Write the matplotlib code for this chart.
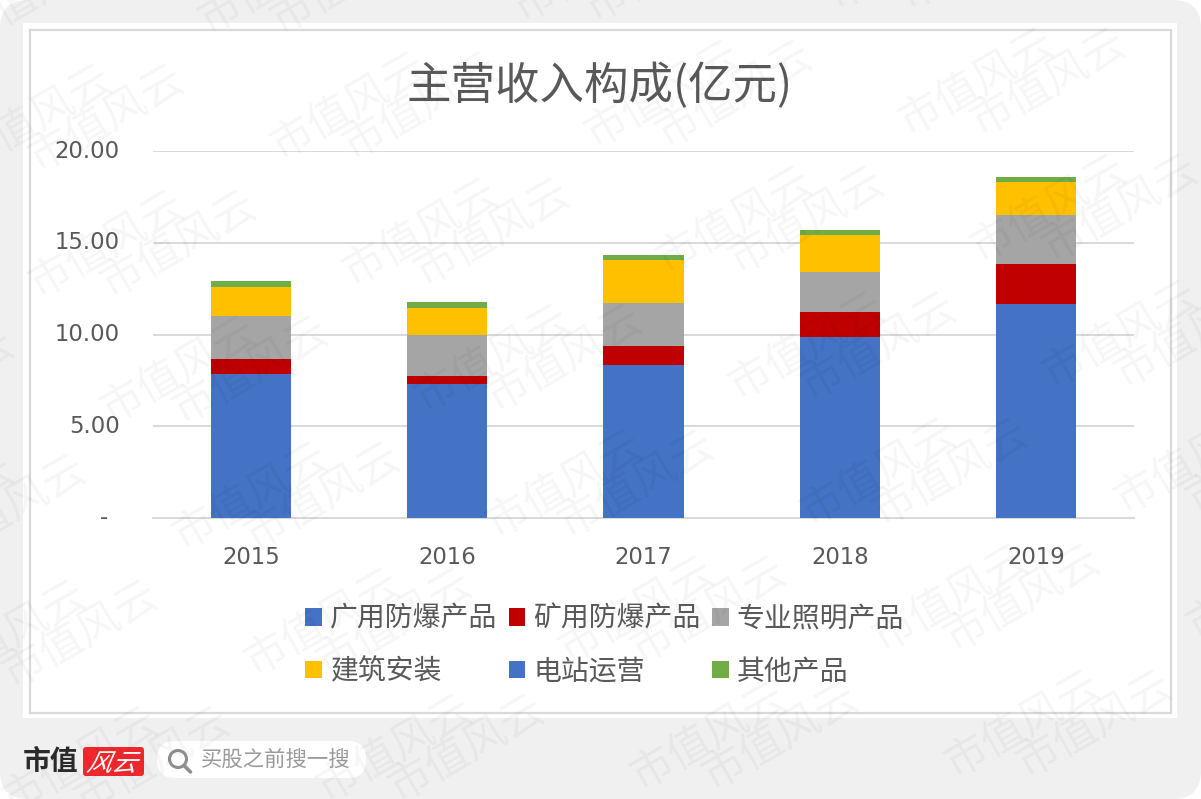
import matplotlib
matplotlib.use('Agg')
from matplotlib import pyplot as plt
from matplotlib.patches import FancyBboxPatch, Rectangle, Circle, PathPatch
from matplotlib.textpath import TextPath
from matplotlib.font_manager import FontProperties
from matplotlib.transforms import Affine2D
import numpy as np

plt.rcParams['font.family'] = ['Noto Sans CJK SC', 'DejaVu Sans']

W, H = 1201, 799

years = ['2015', '2016', '2017', '2018', '2019']
series_names = ['广用防爆产品', '矿用防爆产品', '专业照明产品', '建筑安装', '电站运营', '其他产品']
series_colors = ['#4472c4', '#c00000', '#a5a5a5', '#ffc000', '#4472c4', '#70ad47']

gy_industrial = [7.85, 7.30, 8.34, 9.88, 11.65]
ky_mining = [0.81, 0.44, 1.03, 1.35, 2.20]
zy_lighting = [2.35, 2.23, 2.35, 2.17, 2.65]
jz_building = [1.58, 1.47, 2.34, 2.00, 1.83]
dz_station = [0.0, 0.0, 0.0, 0.0, 0.0]
qt_other = [0.33, 0.33, 0.27, 0.30, 0.24]

y_ticks = [0, 5, 10, 15, 20]
y_labels = ['-\u2002', '5.00', '10.00', '15.00', '20.00']

TXT = '#595959'
GRID = '#d9d9d9'
NUM_FONT = ['DejaVu Sans', 'Noto Sans CJK SC']


def pixel_axes(fig, zorder):
    a = fig.add_axes([0, 0, 1, 1], zorder=zorder)
    a.set_xlim(0, W)
    a.set_ylim(H, 0)
    a.axis('off')
    a.patch.set_alpha(0)
    return a


def draw_page(bg):
    # grey rounded page, white card and the thin frame round the chart
    bg.add_patch(FancyBboxPatch((25, 25), W - 50, H - 50,
                                boxstyle='round,pad=25,rounding_size=28',
                                fc='#f0f0f0', ec='none'))
    bg.add_patch(Rectangle((23, 23), 1154, 695, fc='white', ec='none'))
    bg.add_patch(Rectangle((29.5, 29.5), 1141, 683, fc='none', ec=GRID, lw=1.6))


def draw_footer(bg):
    bg.text(51, 762, '市值', fontsize=20, fontweight='bold', color='#2b2b2b',
            ha='center', va='center')
    bg.add_patch(FancyBboxPatch((84, 748), 59, 27, boxstyle='round,pad=1,rounding_size=3',
                                fc='#f0282d', ec='none'))
    # slanted white brand mark
    fp = FontProperties(family='Noto Sans CJK SC')
    tp = TextPath((0, 0), '风云', size=25, prop=fp)
    tr = Affine2D().skew_deg(25, 0).scale(1, -1).translate(86, 771)
    bg.add_patch(PathPatch(tp, transform=tr + bg.transData, fc='white', ec='none'))

    bg.add_patch(FancyBboxPatch((175, 759), 173, 1, boxstyle='round,pad=18,rounding_size=18',
                                fc='white', ec='none'))
    bg.add_patch(Circle((178, 759), 8.5, fc='none', ec='#8f8f8f', lw=2.2))
    bg.plot([184, 190.5], [765.5, 772], color='#8f8f8f', lw=2.6, solid_capstyle='round')
    bg.text(276, 761, '买股之前搜一搜', fontsize=15.4, color='#9a9a9a', ha='center', va='center')


def draw_watermark(top):
    # tiled brand text: two overlapping lattices across the whole page
    for i in range(-2, 5):
        for j in range(-2, 7):
            x0 = 275 + 314 * i + 72 * j
            y0 = 150 - 12 * i + 126 * j
            for dx in (0, 72):
                if x0 + dx < -150 or x0 + dx > W or y0 < 0 or y0 > H + 85:
                    continue
                top.text(x0 + dx, y0, '市值风云', fontsize=31, fontweight='light',
                         color='black', alpha=0.038, rotation=30,
                         rotation_mode='anchor', ha='left', va='center')


fig = plt.figure(figsize=(W / 100, H / 100), dpi=100, facecolor='white')
bg = pixel_axes(fig, 0)
draw_page(bg)
draw_footer(bg)

ax = fig.add_axes([153 / W, 1 - 518 / H, (1134 - 153) / W, (518 - 151) / H], zorder=1)
ax.patch.set_alpha(0)
x = np.arange(len(years))
bottom = np.zeros(len(years))
handles = []
all_values = [gy_industrial, ky_mining, zy_lighting, jz_building, dz_station, qt_other]
for name, vals, col in zip(series_names, all_values, series_colors):
    b = ax.bar(x, vals, width=0.408, bottom=bottom, color=col, label=name, zorder=3)
    handles.append(b)
    bottom = bottom + np.array(vals)

ax.set_xlim(-0.5, 4.5)
ax.set_ylim(0, 20)
ax.set_xticks(x, years)
ax.set_yticks(y_ticks, y_labels)
ax.tick_params(axis='both', length=0, labelsize=16.4, labelcolor=TXT)
ax.tick_params(axis='x', pad=20)
ax.tick_params(axis='y', pad=24)
for lab in ax.get_xticklabels() + ax.get_yticklabels():
    lab.set_fontfamily(NUM_FONT)
for lab in ax.get_yticklabels():
    lab.set_verticalalignment('center')
ax.grid(axis='y', color=GRID, lw=1.4, zorder=0)
ax.set_axisbelow(True)
for s in ['top', 'right', 'left']:
    ax.spines[s].set_visible(False)
ax.spines['bottom'].set_color(GRID)
ax.spines['bottom'].set_linewidth(1.4)

# legend fills by column, so reorder to read across the rows
order = [0, 3, 1, 4, 2, 5]
leg = ax.legend([handles[i] for i in order], [series_names[i] for i in order],
                ncol=3, frameon=False, fontsize=20.05, labelcolor=TXT,
                loc='center', bbox_to_anchor=(604.5 / W, 1 - 645 / H),
                bbox_transform=fig.transFigure,
                handlelength=0.6, handleheight=0.6, handletextpad=0.28,
                columnspacing=0.42, labelspacing=0.82)

fig.text(600 / W, 1 - 86 / H, '主营收入构成(亿元)', fontsize=32, color=TXT,
         ha='center', va='center')

top = pixel_axes(fig, 5)
draw_watermark(top)

fig.savefig('out.png', dpi=100)
